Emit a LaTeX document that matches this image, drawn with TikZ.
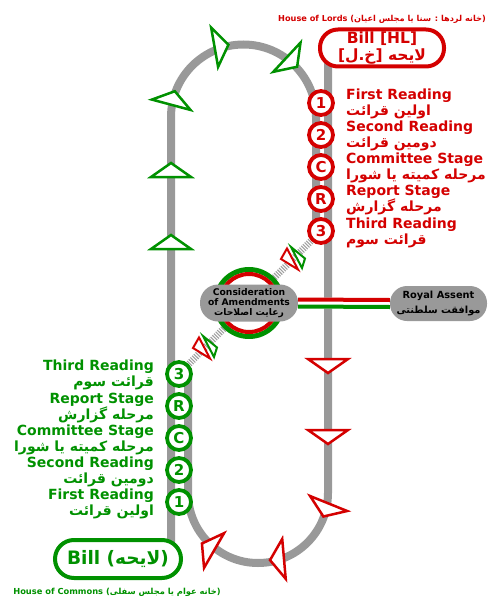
\documentclass[tikz,border=0pt]{standalone}
\usepackage{fontspec}
\setmainfont{DejaVu Sans}
\newfontfamily\fa[Script=Arabic]{DejaVu Sans}
\TeXXeTstate=1
\definecolor{rd}{RGB}{212,0,0}
\definecolor{gn}{RGB}{0,145,0}
\definecolor{tr}{RGB}{153,153,153}
\definecolor{ht}{RGB}{160,160,160}
\newcommand\fr[1]{{\fa\beginR #1\endR}}
\newcommand\flowtri[4]{%
  \draw[#1, line width=2.5pt, fill=white, shift={(#2,#3)}, rotate=#4]
    (7pt,0pt) -- (-7pt,20pt) -- (-7pt,-20pt) -- cycle;}
\newcommand\pingpong[2]{%
  \draw[rd, line width=2pt, fill=white, shift={(#1,#2)}]
    (-6,-10.5) -- (-12,0) -- (5,10.5) -- cycle;
  \draw[gn, line width=2pt, fill=white, shift={(#1,#2)}]
    (-2,-12) -- (12,-0.5) -- (9,9) -- cycle;}
\begin{document}
\begin{tikzpicture}[x=1pt,y=-1pt,
  track/.style={draw=tr, line width=8pt},
  hatch/.style={draw=ht, line width=7pt, dash pattern=on 1.1pt off 1.3pt},
  stage/.style={circle, line width=3.8pt, fill=white, minimum size=24pt, inner sep=0pt,
    font=\bfseries\fontsize{15}{15}\selectfont},
  rstage/.style={stage, draw=rd, text=rd},
  gstage/.style={stage, draw=gn, text=gn},
  lbl/.style={inner sep=0pt, font=\bfseries\fontsize{14}{16.3}\selectfont},
  billbox/.style={rectangle, line width=4pt, fill=white, inner sep=0pt,
    font=\bfseries\fontsize{15.5}{17}\selectfont},
  graybox/.style={rectangle, fill=tr, inner sep=0pt, align=center, text=black}]
\useasboundingbox (0,0) rectangle (500,607);
% anchor coordinates of the tracks
\coordinate (ring) at (249,303);
\coordinate (cb) at (171,560);
\coordinate (ct) at (171,117);
\coordinate (hb) at (328,48);
\coordinate (hr) at (328,493);
\coordinate (r3p) at (321,231);
\coordinate (g3p) at (179,374);
% tracks
\draw[track] (cb) -- (ct) arc[start angle=180, end angle=0, radius=72.5pt] -- (316,231);
\draw[track] (hb) -- (hr) arc[start angle=0, end angle=-180, radius=70pt] -- (188,374);
\draw[hatch] (r3p) -- (ring);
\draw[hatch] (g3p) -- (ring);
% flow arrows
\flowtri{gn}{171}{170}{90}
\flowtri{gn}{171}{242}{90}
\flowtri{gn}{173}{98}{75}
\flowtri{gn}{221.5}{46}{10}
\flowtri{gn}{292}{62}{-43}
\flowtri{rd}{328}{366}{-90}
\flowtri{rd}{328}{437}{-90}
\flowtri{rd}{326}{510}{-112}
\flowtri{rd}{277}{559.5}{-175}
\flowtri{rd}{208}{547}{150}
\pingpong{293}{259}
\pingpong{205}{348}
% ring
\draw[gn, line width=5pt, fill=white] (ring) circle[radius=33.5pt];
\draw[rd, line width=4pt] (ring) circle[radius=29pt];
% boxes
\node[graybox, minimum width=98pt, minimum height=37pt, rounded corners=18pt,
  font=\bfseries\fontsize{9.2}{10}\selectfont] (cons) at (ring)
  {Consideration\\of Amendments\\\fr{رعایت اصلاحات}};
\node[graybox, minimum width=97pt, minimum height=35pt, rounded corners=17pt,
  font=\bfseries\fontsize{9.8}{15}\selectfont] (ra) at (438.5,303.5)
  {Royal Assent\\\fr{موافقت سلطنتی}};
\draw[white, line width=11pt] (cons.east) -- (ra.west);
\draw[rd, line width=4pt] ([yshift=3.5pt]cons.east) -- ([yshift=3.5pt]ra.west);
\draw[gn, line width=4pt] ([yshift=-3.5pt]cons.east) -- ([yshift=-3.5pt]ra.west);
\node[billbox, draw=rd, text=rd, minimum width=124pt, minimum height=37pt,
  rounded corners=18pt, align=center] (hl) at (382,48)
  {Bill [HL]\\\fr{لایحه [خ.ل]}};
\node[billbox, draw=gn, text=gn, minimum width=126pt, minimum height=38pt,
  rounded corners=19pt, font=\bfseries\fontsize{18.5}{20}\selectfont] (hc) at (118,559)
  {Bill (\fr{لایحه})};
\node[inner sep=0pt, text=rd, font=\bfseries\fontsize{8.2}{9}\selectfont] (lords) at (382,19)
  {House of Lords \fr{(خانه لردها : سنا یا مجلس اعیان)}};
\node[inner sep=0pt, text=gn, font=\bfseries\fontsize{8.3}{9}\selectfont] (commons) at (117,592)
  {House of Commons \fr{(خانه عوام یا مجلس سفلی)}};
% Lords stages
\node[rstage] (r1) at (321,103) {1};
\node[rstage] (r2) at (321,135) {2};
\node[rstage] (rc) at (321,167) {C};
\node[rstage] (rr) at (321,199) {R};
\node[rstage] (r3) at (r3p) {3};
\node[lbl, text=rd, anchor=west, align=left] (r1t) at (346,104) {First Reading\\\fr{اولین قرائت}};
\node[lbl, text=rd, anchor=west, align=left] (r2t) at (346,136) {Second Reading\\\fr{دومین قرائت}};
\node[lbl, text=rd, anchor=west, align=left] (rct) at (346,168) {Committee Stage\\\fr{مرحله کمیته یا شورا}};
\node[lbl, text=rd, anchor=west, align=left] (rrt) at (346,200) {Report Stage\\\fr{مرحله گزارش}};
\node[lbl, text=rd, anchor=west, align=left] (r3t) at (346,233) {Third Reading\\\fr{قرائت سوم}};
% Commons stages
\node[gstage] (g3) at (g3p) {3};
\node[gstage] (gr) at (179,406) {R};
\node[gstage] (gc) at (179,438) {C};
\node[gstage] (g2) at (179,470) {2};
\node[gstage] (g1) at (179,502) {1};
\node[lbl, text=gn, anchor=east, align=right] (g3t) at (154,375) {Third Reading\\\fr{قرائت سوم}};
\node[lbl, text=gn, anchor=east, align=right] (grt) at (154,408) {Report Stage\\\fr{مرحله گزارش}};
\node[lbl, text=gn, anchor=east, align=right] (gct) at (154,440) {Committee Stage\\\fr{مرحله کمیته یا شورا}};
\node[lbl, text=gn, anchor=east, align=right] (g2t) at (154,472) {Second Reading\\\fr{دومین قرائت}};
\node[lbl, text=gn, anchor=east, align=right] (g1t) at (154,504) {First Reading\\\fr{اولین قرائت}};
\end{tikzpicture}
\end{document}
